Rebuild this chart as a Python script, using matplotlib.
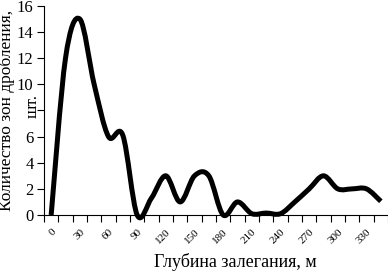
import numpy as np
import matplotlib.pyplot as plt
from matplotlib.path import Path
from matplotlib.patches import PathPatch

# depth categories (m) and number of crushing zones
depth = [0, 15, 30, 45, 60, 75, 90, 105, 120, 135, 150, 165,
         180, 195, 210, 225, 240, 255, 270, 285, 300, 315, 330, 345]
zones = [0, 12, 15, 10, 6, 6.1, 0, 1.3, 3, 1, 3, 3,
         0, 1, 0.1, 0.15, 0.1, 1, 2, 3, 2, 2, 2, 1.05]
tick_labels = [str(d) for d in depth[::2]]
y_ticks = [0, 2, 4, 6, 8, 10, 12, 14, 16]
# the "8" is hidden behind the axis title in the original
y_tick_labels = ['0', '2', '4', '6', '', '10', '12', '14', '16']

plt.rcParams['font.family'] = ['Liberation Serif', 'DejaVu Serif']

fig = plt.figure(figsize=(3.88, 2.75), dpi=100)
ax = fig.add_axes([0.1134, 0.2182, 0.8866, 0.76])

# smooth line like a spreadsheet "smoothed line" (cubic bezier through the points)
x = np.arange(len(zones), dtype=float)
y = np.array(zones, dtype=float)
pts = np.column_stack([x, y])
verts = [pts[0]]
codes = [Path.MOVETO]
n = len(pts)
for i in range(n - 1):
    p_prev = pts[i - 1] if i > 0 else pts[i]
    p_next2 = pts[i + 2] if i + 2 < n else pts[i + 1]
    c1 = pts[i] + (pts[i + 1] - p_prev) / 6
    c2 = pts[i + 1] - (p_next2 - pts[i]) / 6
    verts += [c1, c2, pts[i + 1]]
    codes += [Path.CURVE4] * 3
patch = PathPatch(Path(verts, codes), facecolor='none', edgecolor='black',
                  lw=3.6, capstyle='butt', joinstyle='round', clip_on=False)
ax.add_patch(patch)

ax.set_xlim(-0.5, len(zones) - 0.5)
ax.set_ylim(0, 16)
ax.set_yticks(y_ticks)
ax.set_yticklabels(y_tick_labels)
ax.tick_params(axis='y', direction='out', length=5, width=0.8, labelsize=12, pad=2.5)

ax.set_xticks(x[::2])
ax.set_xticklabels(tick_labels, rotation=45, ha='right', rotation_mode='anchor', fontsize=8)
ax.set_xticks(np.arange(-0.5, len(zones), 1.0), minor=True)
ax.tick_params(axis='x', which='major', length=0, pad=9)
ax.tick_params(axis='x', which='minor', direction='out', length=5, width=0.8)

for s in ['top', 'right']:
    ax.spines[s].set_visible(False)
for s in ['left', 'bottom']:
    ax.spines[s].set_linewidth(0.8)

fig.text(0.606, 0.047, 'Глубина залегания, м', ha='center', va='center', fontsize=13)
fig.text(0.018, 0.6, 'Количество зон дробления,', rotation=90, ha='center', va='center', fontsize=12.5)
fig.text(0.085, 0.615, 'шт.', rotation=90, ha='center', va='center', fontsize=12.5)

fig.savefig('out.png', dpi=100)
